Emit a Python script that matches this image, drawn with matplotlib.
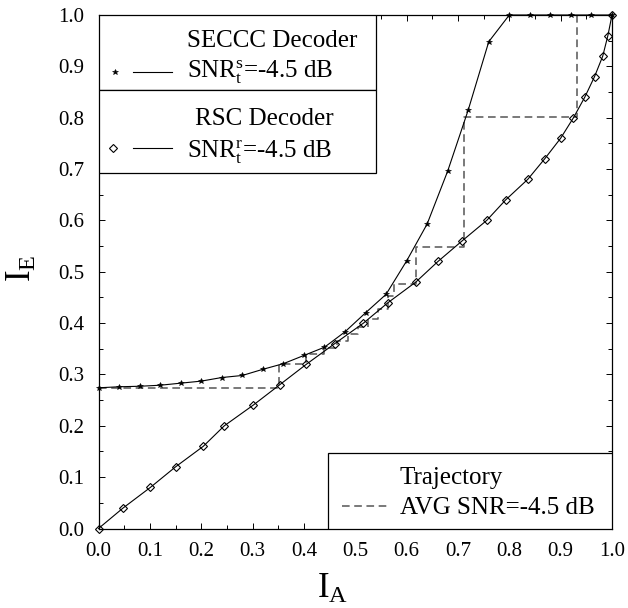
import matplotlib
matplotlib.use('Agg')
import matplotlib.pyplot as plt
from matplotlib.patches import Rectangle
from matplotlib.lines import Line2D
from matplotlib.ticker import MultipleLocator, FormatStrFormatter

plt.rcParams['font.family'] = ['Liberation Serif', 'DejaVu Serif']
plt.rcParams['mathtext.fontset'] = 'custom'
plt.rcParams['mathtext.rm'] = 'Liberation Serif'
plt.rcParams['mathtext.it'] = 'Liberation Serif:italic'

# SECCC decoder curve (stars)
seccc_x = [0.00, 0.04, 0.08, 0.12, 0.16, 0.20, 0.24, 0.28, 0.32, 0.36, 0.40,
           0.44, 0.48, 0.52, 0.56, 0.60, 0.64, 0.68, 0.72, 0.76, 0.80, 0.84,
           0.88, 0.92, 0.96, 1.00]
seccc_y = [0.274, 0.276, 0.277, 0.279, 0.283, 0.287, 0.294, 0.298, 0.310,
           0.321, 0.337, 0.353, 0.383, 0.420, 0.456, 0.521, 0.593, 0.696,
           0.815, 0.948, 1.000, 1.000, 1.000, 1.000, 1.000, 1.000]

# RSC decoder curve (diamonds, inverted axes)
rsc_x = [0.000, 0.048, 0.101, 0.150, 0.204, 0.245, 0.301, 0.353, 0.405,
         0.460, 0.516, 0.564, 0.618, 0.661, 0.708, 0.756, 0.793, 0.836,
         0.869, 0.900, 0.925, 0.947, 0.966, 0.982, 0.992, 1.000]
rsc_y = [0.00, 0.04, 0.08, 0.12, 0.16, 0.20, 0.24, 0.28, 0.32, 0.36, 0.40,
         0.44, 0.48, 0.52, 0.56, 0.60, 0.64, 0.68, 0.72, 0.76, 0.80, 0.84,
         0.88, 0.92, 0.96, 1.00]

# Decoding trajectory
traj_x = [0.000, 0.352, 0.352, 0.405, 0.405, 0.440, 0.440, 0.465, 0.465,
          0.485, 0.485, 0.505, 0.505, 0.525, 0.525, 0.545, 0.545, 0.564,
          0.564, 0.576, 0.576, 0.618, 0.618, 0.711, 0.711, 0.931, 0.931]
traj_y = [0.274, 0.274, 0.320, 0.320, 0.339, 0.339, 0.352, 0.352, 0.365,
          0.365, 0.378, 0.378, 0.392, 0.392, 0.408, 0.408, 0.428, 0.428,
          0.452, 0.452, 0.476, 0.476, 0.548, 0.548, 0.801, 0.801, 1.000]

seccc_label1 = 'SECCC Decoder'
seccc_label2 = r'SNR$_{\rm t}^{\rm s}$=-4.5 dB'
rsc_label1 = 'RSC Decoder'
rsc_label2 = r'SNR$_{\rm t}^{\rm r}$=-4.5 dB'
traj_label1 = 'Trajectory'
traj_label2 = 'AVG SNR=-4.5 dB'

W, H = 628, 608
L, R, T, B = 98.5, 612.0, 15.0, 528.5
fig = plt.figure(figsize=(W / 100, H / 100), dpi=100)
ax = fig.add_axes([L / W, 1 - B / H, (R - L) / W, (B - T) / H])

ax.plot(traj_x, traj_y, linestyle=(0, (5, 3)), color='#555555', lw=1.1, zorder=2)
ax.plot(seccc_x, seccc_y, color='black', lw=0.8, marker='*', markersize=4,
        markeredgewidth=0.4, clip_on=False, zorder=3)
ax.plot(rsc_x, rsc_y, color='black', lw=0.8, marker='D', markersize=4,
        markerfacecolor='none', markeredgewidth=0.8, clip_on=False, zorder=3)

ax.set_xlim(0, 1)
ax.set_ylim(0, 1)
for axis in (ax.xaxis, ax.yaxis):
    axis.set_major_locator(MultipleLocator(0.1))
    axis.set_minor_locator(MultipleLocator(0.05))
    axis.set_major_formatter(FormatStrFormatter('%.1f'))
ax.tick_params(which='both', direction='in', top=True, right=True,
               labelsize=15, pad=10, width=0.7)
ax.tick_params(which='major', length=4)
ax.tick_params(which='minor', length=3)
for s in ax.spines.values():
    s.set_linewidth(0.9)

# axis labels
ax.text(0.456, -0.135, r'I$_{\rm A}$', transform=ax.transAxes, fontsize=25,
        ha='center', va='baseline')
ax.text(-0.148, 0.507, r'I$_{\rm E}$', transform=ax.transAxes, fontsize=25,
        ha='center', va='center', rotation=90)

# legend boxes
tr = ax.transAxes
for (x0, y0, w, h) in [(0.0, 0.854, 0.540, 0.146), (0.0, 0.692, 0.540, 0.162),
                       (0.4475, 0.0, 0.5525, 0.148)]:
    ax.add_patch(Rectangle((x0, y0), w, h, transform=tr, facecolor='white',
                           edgecolor='black', lw=0.9, zorder=5))

fs = 18
ax.text(0.172, 0.938, seccc_label1, transform=tr, fontsize=fs, va='baseline', zorder=6)
ax.text(0.172, 0.879, seccc_label2, transform=tr, fontsize=fs, va='baseline', zorder=6)
ax.add_line(Line2D([0.032], [0.889], transform=tr, marker='*', markersize=4,
                   color='black', markeredgewidth=0.4, zorder=6))
ax.add_line(Line2D([0.067, 0.143], [0.889, 0.889], transform=tr, color='black',
                   lw=0.8, zorder=6))

ax.text(0.188, 0.786, rsc_label1, transform=tr, fontsize=fs, va='baseline', zorder=6)
ax.text(0.172, 0.724, rsc_label2, transform=tr, fontsize=fs, va='baseline', zorder=6)
ax.add_line(Line2D([0.028], [0.741], transform=tr, marker='D', markersize=4,
                   markerfacecolor='none', markeredgewidth=0.8, color='black', zorder=6))
ax.add_line(Line2D([0.067, 0.143], [0.741, 0.741], transform=tr, color='black',
                   lw=0.8, zorder=6))

ax.text(0.587, 0.0867, traj_label1, transform=tr, fontsize=fs, va='baseline', zorder=6)
ax.text(0.587, 0.028, traj_label2, transform=tr, fontsize=fs, va='baseline', zorder=6)
ax.add_line(Line2D([0.474, 0.562], [0.044, 0.044], transform=tr, color='#555555',
                   lw=1.1, linestyle=(0, (5, 3)), zorder=6))

fig.savefig('out.png', dpi=100)
